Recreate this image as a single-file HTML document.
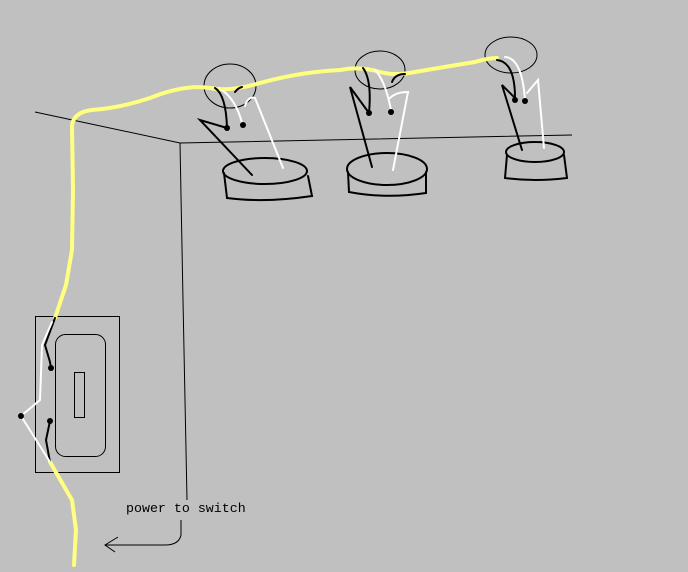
<!DOCTYPE html>
<html><head><style>html,body{margin:0;padding:0;background:#c0c0c0}svg{display:block}</style></head>
<body>
<svg width="688" height="572" viewBox="0 0 688 572" xmlns="http://www.w3.org/2000/svg">
<rect width="688" height="572" fill="#c0c0c0"/>
<g fill="none" stroke="#000" stroke-width="1">
<path d="M35,112 L180,143 L572,135"/>
<path d="M180,143 L183,300 L187,500"/>
<path d="M181,520 L181,535 Q179,545 165,545 L105,545 M118,537 L105,545 L115,552"/>
<rect x="35.5" y="316.5" width="84" height="156"/>
<rect x="55.5" y="334.5" width="50" height="122" rx="10"/>
<rect x="74.5" y="372.5" width="10" height="45"/>
<ellipse cx="230" cy="86" rx="26" ry="22"/>
<ellipse cx="380" cy="70" rx="25" ry="19"/>
<ellipse cx="511" cy="55" rx="26" ry="18"/>
</g>
<path d="M74,565 L76,530 L72,500 L50,462 M55,318 L66,285 L72,250 L73,190 L72,125 Q74,112 92,110 Q120,108 150,98 Q185,84 210,88 Q230,92 260,83 Q300,72 340,70 Q360,66 380,72 Q395,76 415,72 Q450,66 475,62 Q488,58 497,58" fill="none" stroke="#ffff80" stroke-width="4" stroke-linecap="round"/>
<g fill="none" stroke="#000" stroke-width="2" stroke-linecap="round">
<path d="M215,88 Q226,95 227,128"/>
<path d="M227,128 L200,120 L252,175"/>
<path d="M235,92 Q238,88 242,87"/>
<path d="M363,68 Q372,80 369,113 L350,87 L372,167"/>
<path d="M392,82 Q395,74 405,74"/>
<path d="M497,60 Q515,62 515,98 L502,85 L522,150"/>
<path d="M55,318 L45,345 L50,362 L51,368"/>
<path d="M50,421 L46,440 L50,462"/>
<ellipse cx="265" cy="171" rx="42" ry="13"/>
<path d="M224,173 L227,198 Q265,203 312,196 L308,176"/>
<ellipse cx="387" cy="169" rx="40" ry="16"/>
<path d="M348,172 L349,192 Q385,199 426,193 L426,172"/>
<ellipse cx="535" cy="152" rx="29" ry="10"/>
<path d="M507,155 L505,178 Q535,182 567,178 L564,155"/>
</g>
<g fill="none" stroke="#fff" stroke-width="2" stroke-linecap="round">
<path d="M222,90 Q236,100 242,123"/>
<path d="M245,106 Q248,96 255,98 L283,168"/>
<path d="M375,70 Q385,80 391,110"/>
<path d="M390,98 Q396,92 408,92 L393,170"/>
<path d="M505,57 Q522,58 525,100"/>
<path d="M527,93 L538,80 L544,148"/>
<path d="M52,322 L42,345 L40,400 L21,416 L50,462"/>
</g>
<g fill="#000">
<circle cx="227" cy="128" r="3"/><circle cx="243" cy="125" r="3"/>
<circle cx="369" cy="113" r="3"/><circle cx="391" cy="112" r="3"/>
<circle cx="515" cy="100" r="3"/><circle cx="525" cy="101" r="3"/>
<circle cx="51" cy="368" r="3"/><circle cx="50" cy="421" r="3"/><circle cx="21" cy="416" r="3"/>
</g>
<text x="126" y="512" font-family="Liberation Mono, monospace" font-size="13.3" fill="#000">power to switch</text>
</svg>
</body></html>
